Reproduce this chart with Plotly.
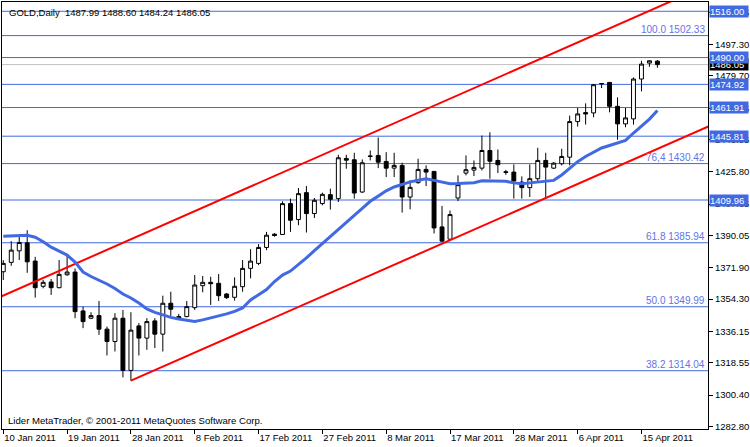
import plotly.graph_objects as go

# daily bars (broker feed has Sunday bars), index 0 = 10 Jan 2011
opens = [1369.65, 1374.91, 1381.40, 1385.88, 1375.64, 1361.47, 1363.88, 1360.69, 1367.96, 1369.48,
         1347.64, 1343.55, 1345.01, 1337.40, 1330.45, 1343.55, 1314.21, 1339.24, 1332.36, 1342.04,
         1334.59, 1351.95, 1344.45, 1344.45, 1349.49, 1361.81, 1363.71, 1363.15, 1357.16, 1355.31,
         1361.25, 1371.55, 1374.35, 1383.31, 1390.75, 1390.59, 1407.94, 1398.98, 1414.10, 1402.34,
         1407.94, 1412.98, 1410.74, 1433.31, 1432.58, 1414.44, 1434.70, 1434.99, 1431.63, 1427.87,
         1429.39, 1411.64, 1419.70, 1427.15, 1426.03, 1394.84, 1387.95, 1411.08, 1425.07, 1426.75,
         1427.87, 1437.78, 1432.19, 1425.80, 1425.64, 1420.03, 1416.90, 1421.94, 1432.19, 1427.87,
         1430.34, 1434.03, 1454.02, 1459.06, 1458.89, 1475.20, 1476.03, 1462.59, 1452.73, 1455.53,
         1477.93, 1486.89, 1487.99]
highs = [1376.20, 1386.83, 1390.19, 1392.99, 1378.04, 1365.00, 1365.56, 1376.20, 1379.00, 1371.55,
         1350.05, 1346.91, 1353.24, 1338.85, 1346.35, 1348.20, 1346.91, 1340.75, 1343.55, 1343.55,
         1356.21, 1358.45, 1345.96, 1353.24, 1367.80, 1367.24, 1366.85, 1368.36, 1357.72, 1366.51,
         1376.20, 1382.35, 1385.15, 1392.04, 1391.31, 1409.23, 1410.74, 1416.68, 1417.80, 1411.08,
         1414.10, 1416.34, 1435.38, 1435.38, 1436.50, 1432.75, 1437.78, 1445.06, 1436.83, 1436.50,
         1430.90, 1420.99, 1433.14, 1429.39, 1426.20, 1406.60, 1404.02, 1423.79, 1434.99, 1432.19,
         1446.18, 1448.03, 1438.34, 1426.90, 1429.95, 1423.23, 1429.95, 1439.30, 1436.50, 1431.30,
         1438.74, 1457.38, 1461.69, 1464.27, 1475.13, 1475.70, 1476.20, 1467.63, 1461.69, 1478.83,
         1488.18, 1488.50, 1488.60]
lows = [1365.00, 1373.00, 1376.20, 1369.08, 1355.09, 1360.35, 1356.60, 1360.35, 1367.40, 1343.55,
        1337.96, 1343.00, 1334.20, 1322.61, 1324.85, 1310.30, 1308.45, 1322.61, 1325.80, 1326.76,
        1324.85, 1344.45, 1342.60, 1344.11, 1348.20, 1358.11, 1351.00, 1353.24, 1354.36, 1353.41,
        1358.45, 1365.95, 1373.40, 1381.79, 1389.36, 1390.40, 1392.04, 1395.79, 1391.71, 1399.88,
        1406.99, 1404.58, 1408.84, 1427.54, 1410.74, 1413.88, 1432.19, 1427.87, 1422.84, 1422.84,
        1402.90, 1404.75, 1419.14, 1417.80, 1391.15, 1386.44, 1387.39, 1409.40, 1423.79, 1423.40,
        1426.59, 1421.94, 1425.07, 1424.10, 1410.74, 1410.74, 1411.64, 1420.60, 1410.74, 1427.40,
        1429.39, 1429.39, 1451.22, 1452.34, 1456.43, 1472.89, 1459.23, 1443.78, 1450.83, 1452.34,
        1470.99, 1484.82, 1484.24]
closes = [1374.35, 1381.79, 1386.11, 1375.24, 1360.69, 1363.71, 1360.69, 1368.19, 1369.48, 1347.25,
          1341.65, 1345.01, 1337.40, 1330.45, 1343.55, 1314.21, 1336.84, 1332.36, 1341.65, 1334.59,
          1351.95, 1348.59, 1343.44, 1350.05, 1362.20, 1363.71, 1362.93, 1356.21, 1355.09, 1361.47,
          1371.55, 1375.64, 1383.31, 1390.19, 1390.03, 1407.94, 1398.59, 1413.54, 1402.34, 1409.79,
          1413.15, 1410.35, 1433.70, 1432.35, 1413.88, 1430.90, 1434.50, 1431.23, 1427.87, 1429.39,
          1411.64, 1417.07, 1427.15, 1425.64, 1394.28, 1386.83, 1401.78, 1418.58, 1426.98, 1428.27,
          1437.78, 1431.79, 1429.78, 1425.50, 1420.60, 1416.90, 1421.94, 1432.19, 1428.44, 1430.67,
          1434.43, 1454.02, 1458.33, 1458.33, 1474.74, 1475.40, 1462.59, 1452.73, 1456.09, 1477.93,
          1486.33, 1488.18, 1486.05]
ma_values = [1389.63, 1389.91, 1390.19, 1390.19, 1389.07, 1386.55, 1383.47, 1381.23, 1379.00, 1375.08,
             1369.48, 1366.96, 1365.00, 1362.76, 1360.24, 1357.16, 1354.92, 1352.12, 1348.76, 1346.80,
             1345.40, 1344.00, 1343.16, 1342.32, 1341.76, 1342.60, 1343.72, 1344.56, 1345.96, 1347.36,
             1349.32, 1353.80, 1356.88, 1359.68, 1364.16, 1367.80, 1370.04, 1373.50, 1377.43, 1381.51,
             1385.55, 1389.47, 1393.83, 1397.75, 1401.39, 1405.31, 1409.23, 1412.14, 1415.11, 1417.29,
             1418.75, 1420.15, 1421.10, 1421.94, 1420.99, 1419.87, 1419.14, 1419.20, 1419.31, 1419.70,
             1420.71, 1420.71, 1420.54, 1420.43, 1419.59, 1419.14, 1419.59, 1420.15, 1420.43, 1420.99,
             1424.00, 1427.70, 1431.50, 1434.40, 1436.80, 1439.20, 1440.60, 1442.00, 1443.50, 1447.60,
             1451.50, 1455.40, 1460.30]
bars = list(range(len(closes)))

tick_bars = [0, 8, 16, 24, 32, 40, 48, 56, 64, 72, 80]
tick_labels = ["10 Jan 2011", "19 Jan 2011", "28 Jan 2011", "8 Feb 2011", "17 Feb 2011",
               "27 Feb 2011", "8 Mar 2011", "17 Mar 2011", "28 Mar 2011", "6 Apr 2011",
               "15 Apr 2011"]
price_ticks = [1282.80, 1300.40, 1318.55, 1336.15, 1354.30, 1371.90, 1390.05, 1407.65,
               1425.80, 1443.95, 1461.55, 1479.70, 1497.30, 1515.45]

# horizontal levels drawn by hand
level_prices = [1516.00, 1490.00, 1474.92, 1461.91, 1445.81, 1409.96]
fib_names = ["100.0", "76,4", "61.8", "50.0", "38.2"]
fib_prices = [1502.33, 1430.42, 1385.94, 1349.99, 1314.04]
last_price = 1486.05

# trend channel anchor points (bar, price)
upper_bars = [-1, 84]
upper_prices = [1354.33, 1522.20]
lower_bars = [16, 89]
lower_prices = [1308.45, 1452.50]

BLUE = "#4169e1"
FIB_BLUE = "#6274e6"
FONT = "Liberation Sans"

fig = go.Figure()

fig.add_trace(go.Scatter(x=upper_bars, y=upper_prices, mode="lines",
                         line=dict(color="#ff0000", width=2), showlegend=False, hoverinfo="skip"))
fig.add_trace(go.Scatter(x=lower_bars, y=lower_prices, mode="lines",
                         line=dict(color="#ff0000", width=2), showlegend=False, hoverinfo="skip"))

fig.add_trace(go.Candlestick(
    x=bars, open=opens, high=highs, low=lows, close=closes,
    increasing=dict(line=dict(color="black", width=1), fillcolor="white"),
    decreasing=dict(line=dict(color="black", width=1), fillcolor="black"),
    whiskerwidth=0, showlegend=False,
))

fig.add_trace(go.Scatter(x=bars, y=ma_values, mode="lines",
                         line=dict(color=BLUE, width=3), showlegend=False, hoverinfo="skip"))

shapes = []
for p in level_prices + fib_prices:
    shapes.append(dict(type="line", xref="paper", x0=0, x1=1, yref="y", y0=p, y1=p,
                       line=dict(color=BLUE, width=1), layer="below"))
shapes.append(dict(type="line", xref="paper", x0=0, x1=1, yref="y", y0=last_price, y1=last_price,
                   line=dict(color="#c0c0c0", width=1), layer="below"))

annotations = []
for name, p in zip(fib_names, fib_prices):
    annotations.append(dict(xref="paper", x=1, xanchor="right", xshift=-1, yref="y", y=p,
                            yanchor="bottom", yshift=-1, showarrow=False,
                            text=f"{name} {p:.2f}", font=dict(family=FONT, size=10, color=FIB_BLUE)))

# price boxes on the right scale
annotations.append(dict(xref="paper", x=1, xanchor="left", xshift=1, yref="y", y=last_price,
                        yanchor="middle", showarrow=False, text=f"{last_price:.2f}", align="left",
                        width=38, height=11, borderpad=0, bgcolor="black",
                        font=dict(family=FONT, size=9.5, color="white")))
for p in level_prices:
    annotations.append(dict(xref="paper", x=1, xanchor="left", xshift=1, yref="y", y=p,
                            yanchor="middle", showarrow=False, text=f"{p:.2f}", align="left",
                            width=38, height=11, borderpad=0, bgcolor=BLUE,
                            font=dict(family=FONT, size=9.5, color="white")))

annotations.append(dict(xref="paper", x=0, xanchor="left", xshift=5, yref="paper", y=1,
                        yanchor="top", yshift=-3, showarrow=False,
                        text=f"GOLD,Daily  {opens[-1]:.2f} {highs[-1]:.2f} {lows[-1]:.2f} {closes[-1]:.2f}",
                        font=dict(family=FONT, size=9.5, color="black")))
annotations.append(dict(xref="paper", x=0, xanchor="left", xshift=4, yref="paper", y=0,
                        yanchor="bottom", yshift=1, showarrow=False,
                        text="Lider MetaTrader, © 2001-2011 MetaQuotes Software Corp.",
                        font=dict(family=FONT, size=9.6, color="black")))

fig.update_layout(
    width=750, height=447,
    margin=dict(l=2, r=40, t=1, b=18),
    paper_bgcolor="white", plot_bgcolor="white",
    font=dict(family=FONT, size=9.5, color="black"),
    shapes=shapes, annotations=annotations,
    boxgap=0.3,
    xaxis=dict(range=[-0.16, 88.34], tickvals=tick_bars, ticktext=tick_labels, tickangle=0,
               ticks="outside", ticklen=4, tickcolor="black", ticklabelposition="outside right",
               tickfont=dict(family=FONT, size=9.5),
               showline=True, linecolor="black", linewidth=1, mirror=True,
               showgrid=False, zeroline=False, rangeslider=dict(visible=False)),
    yaxis=dict(range=[1281.3, 1521.21], side="right", tickvals=price_ticks,
               ticktext=[f"{p:.2f}" for p in price_ticks], ticklabeloverflow="allow",
               ticks="outside", ticklen=4, tickcolor="black", tickfont=dict(family=FONT, size=9.5),
               showline=True, linecolor="black", linewidth=1, mirror=True,
               showgrid=False, zeroline=False),
)

fig.write_html("out.html", config={"displayModeBar": False},
               post_script="document.body.style.margin = '0';")
